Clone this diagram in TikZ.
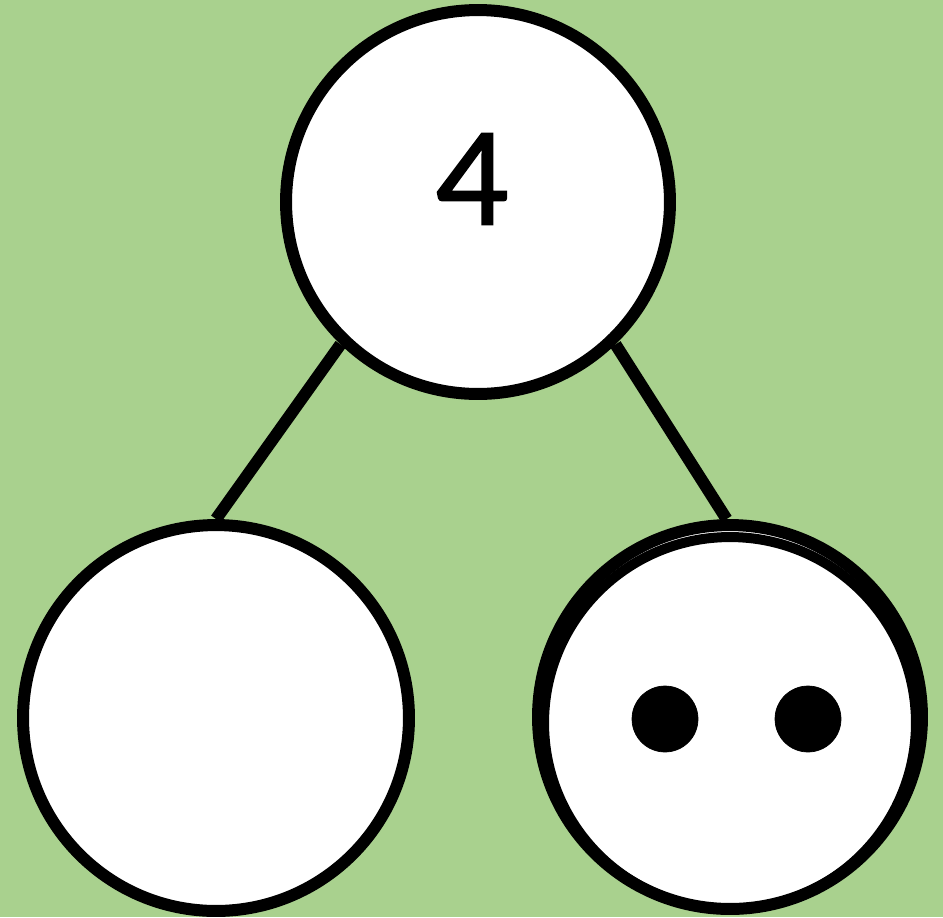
\documentclass[tikz,border=0pt]{standalone}
\usepackage{fontspec}
\setmainfont{Lato}
\newfontfamily\cifra[FakeBold=1.6]{Lato}
\definecolor{verde}{HTML}{A9D18E}
\tikzset{
  bola/.style={circle, draw=black, fill=white, line width=0.24cm, minimum size=7.68cm, inner sep=0pt},
  traco/.style={black, line width=0.24cm}
}
\begin{document}
\begin{tikzpicture}[x=0.02cm, y=-0.02cm]
    % Desenha o fundo
    \fill[verde] (0,0) rectangle (943,917);
    \useasboundingbox (0,0) rectangle (943,917);

    \node[bola] (topo) at (478,202) {};
    \node[bola, minimum size=7.72cm] (esquerda) at (216,718) {};
    \node[bola] (direita) at (730,717) {};
    \draw[black, line width=0.2cm] (730,723) circle (3.72cm);

    \node[font=\cifra\fontsize{72}{80}\selectfont] (quatro) at (473,179) {4};

    \draw[traco] (topo.226) -- (esquerda.90);
    \draw[traco] (topo.314) -- (direita.91);

    \filldraw[black] (665,719) circle (0.66cm);
    \filldraw[black] (808,719) circle (0.66cm);
\end{tikzpicture}
\end{document}
